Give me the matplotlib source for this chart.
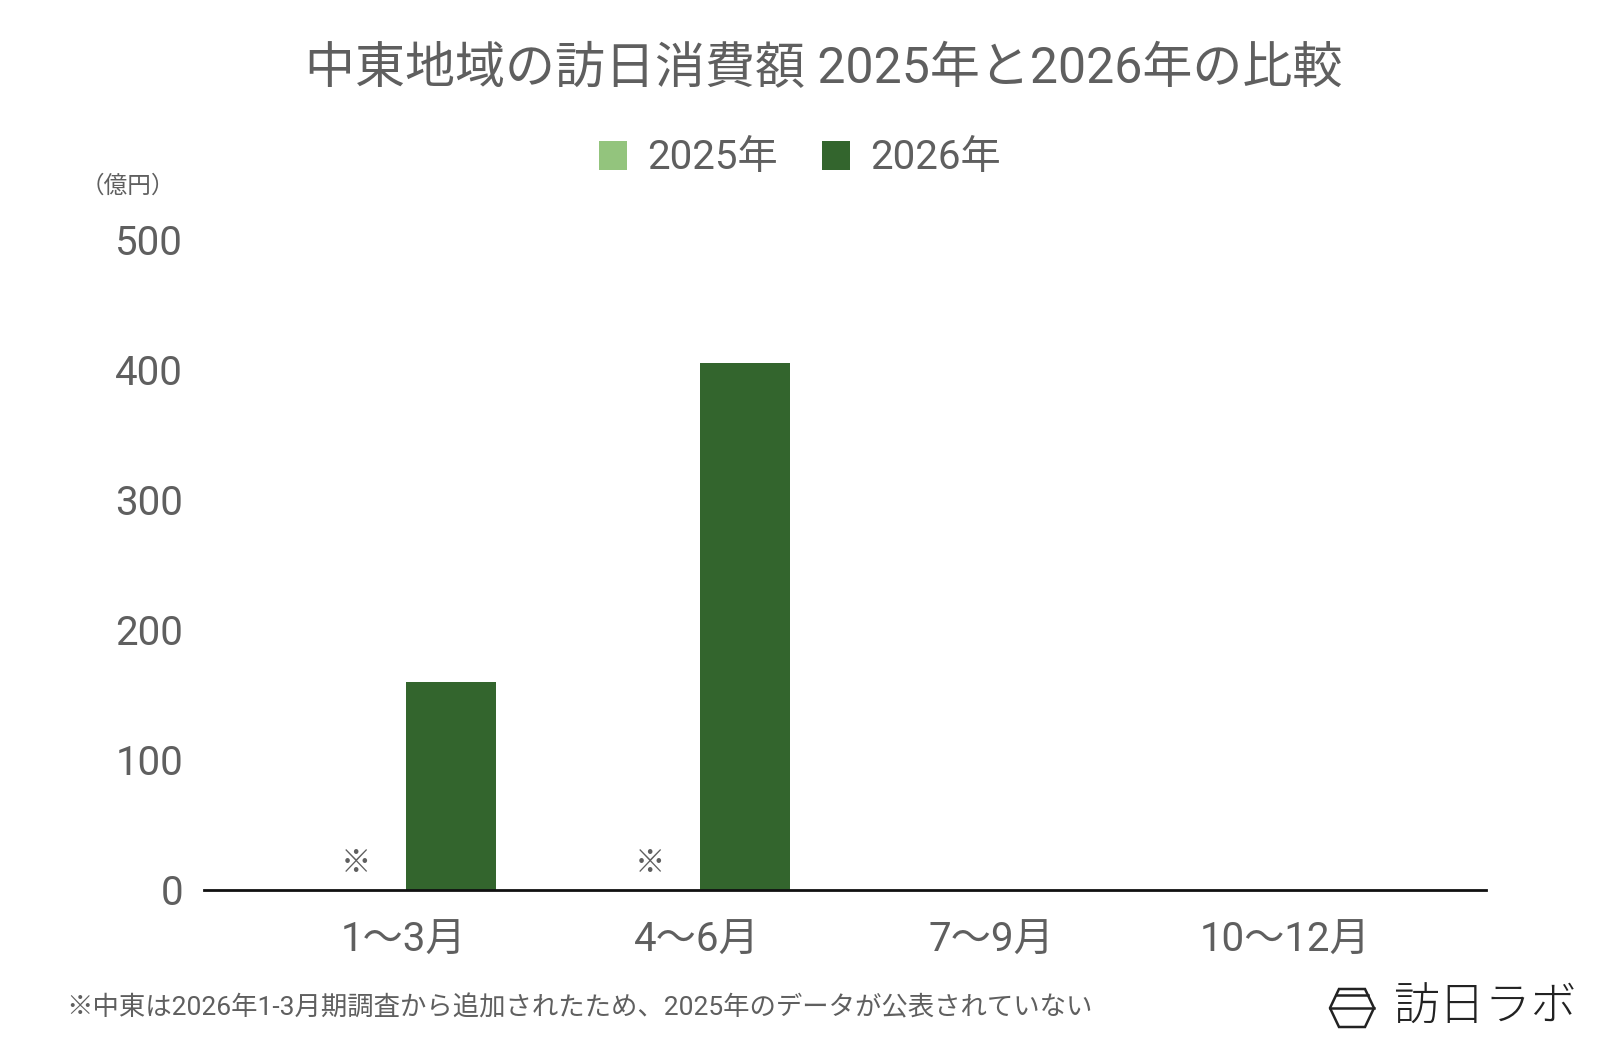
import matplotlib
matplotlib.use("Agg")
import matplotlib.pyplot as plt
from matplotlib.patches import Patch, Polygon
from matplotlib.lines import Line2D
import numpy as np

plt.rcParams['font.family'] = ['Roboto', 'Noto Sans CJK JP', 'DejaVu Sans']

title = "中東地域の訪日消費額 2025年と2026年の比較"
categories = ["1〜3月", "4〜6月", "7〜9月", "10〜12月"]
series_names = ["2025年", "2026年"]
values_2025 = [None, None, None, None]
values_2026 = [160, 405, None, None]
yticks = [0, 100, 200, 300, 400, 500]
unit_label = "（億円）"
note_mark = "※"
footnote = "※中東は2026年1-3月期調査から追加されたため、2025年のデータが公表されていない"
logo_text = "訪日ラボ"

c2025 = "#93c47d"
c2026 = "#33652d"
gray = "#5f5f5f"

fig = plt.figure(figsize=(16, 10.48), dpi=100)
ax = fig.add_axes([0.1275, 0.1508, 0.929 - 0.1275, 0.771 - 0.1508])

x = np.arange(len(categories))
off = 0.162
w = 0.305
v25 = [np.nan if v is None else v for v in values_2025]
v26 = [np.nan if v is None else v for v in values_2026]
ax.bar(x - off, v25, width=w, color=c2025, zorder=2)
ax.bar(x + off, v26, width=w, color=c2026, zorder=2)

for i, v in enumerate(values_2025):
    if v is None and values_2026[i] is not None:
        ax.text(x[i] - off, 10, note_mark, ha='center', va='bottom',
                fontsize=22, color=gray)

ax.set_xlim(-0.677, 3.684)
ax.set_ylim(0, 500)
ax.set_yticks(yticks)
ax.set_yticklabels([str(t) for t in yticks], fontsize=29, color=gray)
ax.set_xticks(x)
ax.set_xticklabels(categories, fontsize=29, color=gray)
ax.tick_params(axis='both', length=0)
ax.tick_params(axis='y', pad=15)
ax.tick_params(axis='x', pad=22)
for s in ['top', 'right', 'left']:
    ax.spines[s].set_visible(False)
ax.spines['bottom'].set_linewidth(2)
ax.spines['bottom'].set_color('#111111')
ax.spines['bottom'].set_zorder(3)

fig.text(0.515, 1 - 69 / 1048, title, ha='center', va='center',
         fontsize=36, color=gray)

handles = [Patch(facecolor=c2025, edgecolor='none'),
           Patch(facecolor=c2026, edgecolor='none')]
fig.legend(handles, series_names, loc='center', bbox_to_anchor=(0.5, 1 - 158 / 1048),
           ncol=2, frameon=False, fontsize=29, labelcolor=gray,
           handlelength=0.7, handleheight=0.7, handletextpad=0.5,
           columnspacing=1.1)

fig.text(128 / 1600, 1 - 186 / 1048, unit_label, ha='center', va='center',
         fontsize=17, color=gray)

fig.text(66 / 1600, 1 - 1008 / 1048, footnote, ha='left', va='center',
         fontsize=19, color=gray)

# logo
fig.text(1393 / 1600, 1 - 1008 / 1048, logo_text, ha='left', va='center',
         fontsize=33, color='#222222', fontweight='light')
cx, cy = 1352, 1008
pts = [(cx - 13, cy - 19), (cx + 13, cy - 19), (cx + 22, cy), (cx + 13, cy + 19),
       (cx - 13, cy + 19), (cx - 22, cy)]
fig.add_artist(Polygon([(px / 1600, 1 - py / 1048) for px, py in pts], closed=True,
                       fill=False, edgecolor='#222222', lw=1.8, transform=fig.transFigure))
fig.add_artist(Line2D([(cx - 22) / 1600, (cx + 22) / 1600], [1 - cy / 1048] * 2,
                      color='#222222', lw=1.8, transform=fig.transFigure))
fig.add_artist(Line2D([(cx - 16) / 1600, (cx + 16) / 1600], [1 - (cy - 13) / 1048] * 2,
                      color='#222222', lw=1.8, transform=fig.transFigure))

fig.savefig("out.png", dpi=100, facecolor='white')
